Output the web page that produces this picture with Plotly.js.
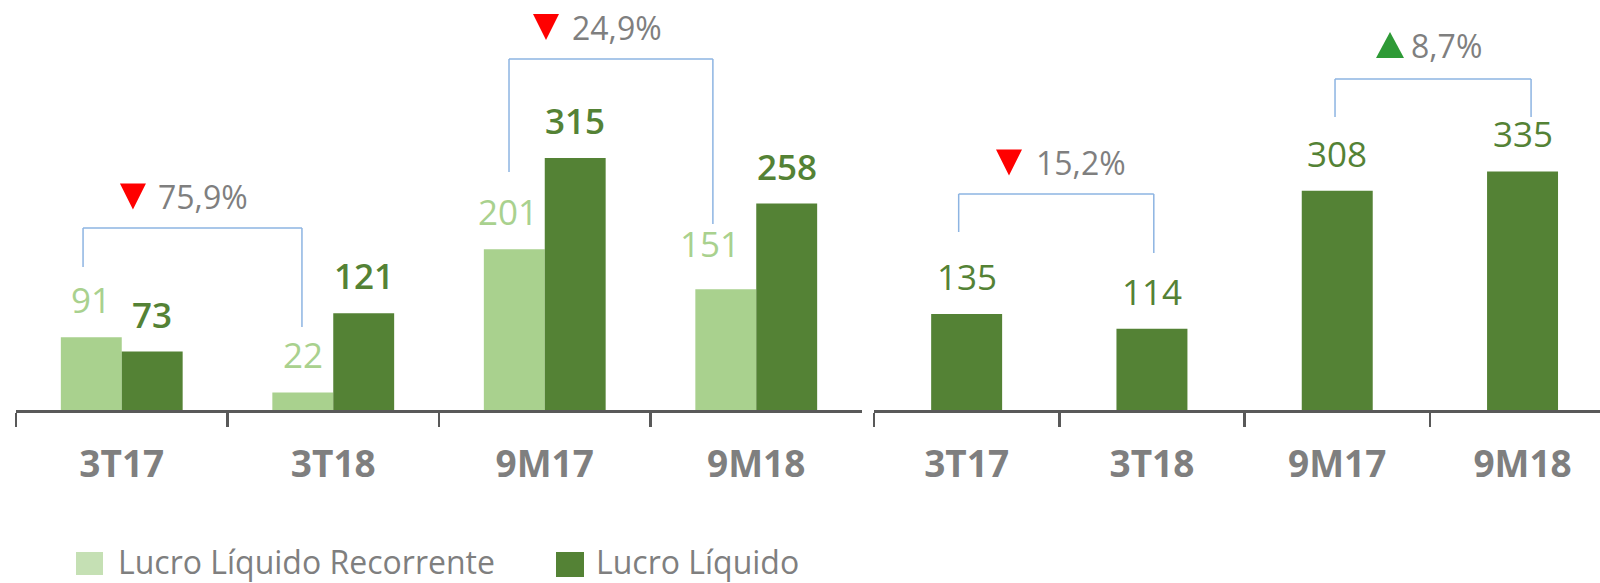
<!DOCTYPE html>
<html>
<head>
<meta charset="utf-8">
<script src="https://cdn.plot.ly/plotly-3.0.1.min.js"></script>
<style>
  html, body { margin: 0; padding: 0; background: #fff; }
  #chart { width: 1600px; height: 583px; }
</style>
</head>
<body>
<div id="chart"></div>
<script>
// Lucro líquido (esquerda: recorrente x contábil) e painel da direita,
// com colchetes de variação entre períodos.

const CATEGORIES = ['3T17', '3T18', '9M17', '9M18'];
const LUCRO_RECORRENTE = [91, 22, 201, 151];
const LUCRO_LIQUIDO = [73, 121, 315, 258];
const RIGHT_VALUES = [135, 114, 308, 335];
const SERIES_NAMES = ['Lucro Líquido Recorrente', 'Lucro Líquido'];

const LEFT_CHANGES = ['75,9%', '24,9%'];
const LEFT_DIRS = ['down', 'down'];
const RIGHT_CHANGES = ['15,2%', '8,7%'];
const RIGHT_DIRS = ['down', 'up'];

const FONT = 'Open Sans, sans-serif';
const LIGHT = '#A9D18E';
const DARK = '#548235';
const SWATCH_LIGHT = '#C5E0B4';
const GRAY = '#7F7F7F';
const AXIS = '#595959';
const BRACKET = '#8DB4E2';
// triangles in pixels around their anchor (y up)
const ARROW = {
  down: { path: 'M-13,13 L13,13 L0,-13 Z', color: '#FF0000' },
  up: { path: 'M-14,-13 L14,-13 L0,13 Z', color: '#2E9A36' },
};

const W = 1600;
const PLOT_H = 410;

// bracket geometry: [x-left, x-right, top, left-leg bottom, right-leg bottom] in axis units
const LEFT_BRACKETS = [[-0.183, 0.852, 227.5, 178.75, 103.75], [1.831, 2.795, 438.75, 297.5, 232.5]];
const RIGHT_BRACKETS = [[-0.043, 1.01, 303.4, 250, 220.5], [1.988, 3.046, 464.9, 411.5, 411.5]];
// change marks: [arrow centre x, arrow centre y, text left x, text middle y] in axis units
const LEFT_CHANGE_POS = [[0.053, 266.9, 0.162, 267.5], [2.006, 478.75, 2.119, 478.75]];
const RIGHT_CHANGE_POS = [[0.2286, 347.6, 0.3635, 348.3], [2.2847, 512.6, 2.387, 511.9]];

const traces = [
  {
    type: 'bar', x: CATEGORIES, y: LUCRO_RECORRENTE, xaxis: 'x', yaxis: 'y',
    name: SERIES_NAMES[0], marker: { color: LIGHT }, width: 0.288, offset: -0.288,
    hoverinfo: 'x+y+name',
  },
  {
    type: 'bar', x: CATEGORIES, y: LUCRO_LIQUIDO, xaxis: 'x', yaxis: 'y',
    name: SERIES_NAMES[1], marker: { color: DARK }, width: 0.288, offset: 0,
    hoverinfo: 'x+y+name',
  },
  {
    type: 'bar', x: CATEGORIES, y: RIGHT_VALUES, xaxis: 'x2', yaxis: 'y2',
    name: SERIES_NAMES[1], marker: { color: DARK }, width: 0.383,
    hoverinfo: 'x+y',
  },
];

function valueLabels(values, xref, yref, color, weight, xshift, nudges = {}) {
  return values.map((v, i) => {
    const n = nudges[i] || [0, 0];
    return {
      x: CATEGORIES[i], y: v, xref, yref, text: String(v), showarrow: false,
      xanchor: 'center', yanchor: 'bottom', xshift: xshift + n[0], yshift: 12 + n[1],
      font: { family: FONT, size: 35, color, weight },
    };
  });
}

function changeTexts(texts, pos, xref, yref) {
  return texts.map((t, i) => ({
    x: pos[i][2], y: pos[i][3], xref, yref, showarrow: false, xanchor: 'left', yanchor: 'middle',
    text: t, font: { family: FONT, size: 32, color: GRAY },
  }));
}

function changeArrows(dirs, pos, xref, yref) {
  return dirs.map((d, i) => ({
    type: 'path', xref, yref, xsizemode: 'pixel', ysizemode: 'pixel',
    xanchor: pos[i][0], yanchor: pos[i][1], path: ARROW[d].path,
    fillcolor: ARROW[d].color, line: { width: 0 },
  }));
}

function brackets(list, xref, yref) {
  const line = { color: BRACKET, width: 1.5 };
  const out = [];
  list.forEach(([x0, x1, top, b0, b1]) => {
    out.push({ type: 'line', xref, yref, x0, x1, y0: top, y1: top, line });
    out.push({ type: 'line', xref, yref, x0, x1: x0, y0: top, y1: b0, line });
    out.push({ type: 'line', xref, yref, x0: x1, x1, y0: top, y1: b1, line });
  });
  return out;
}

// hand-made legend (Excel-like big swatches)
const legendY = (px) => (PLOT_H - px) / PLOT_H;
const legendShapes = [
  { type: 'rect', xref: 'paper', yref: 'paper', x0: 76 / W, x1: 103 / W, y0: legendY(575), y1: legendY(552),
    fillcolor: SWATCH_LIGHT, line: { width: 0 } },
  { type: 'rect', xref: 'paper', yref: 'paper', x0: 556 / W, x1: 584 / W, y0: legendY(577), y1: legendY(552),
    fillcolor: DARK, line: { width: 0 } },
];
const legendText = [
  { x: 116 / W, text: SERIES_NAMES[0] },
  { x: 594 / W, text: SERIES_NAMES[1] },
].map((d) => ({
  ...d, y: legendY(561), xref: 'paper', yref: 'paper', showarrow: false,
  xanchor: 'left', yanchor: 'middle', font: { family: FONT, size: 32, color: GRAY },
}));

const xCommon = {
  type: 'category', showline: true, linecolor: AXIS, linewidth: 3,
  ticks: 'outside', tickson: 'boundaries', ticklen: 14, tickwidth: 2.5, tickcolor: AXIS,
  showgrid: false, zeroline: false, ticklabelstandoff: 20,
  tickfont: { family: FONT, size: 37, color: GRAY, weight: 700 },
};

const layout = {
  width: W, height: 583,
  margin: { l: 0, r: 0, t: 0, b: 583 - PLOT_H },
  paper_bgcolor: '#fff', plot_bgcolor: '#fff',
  barmode: 'overlay', showlegend: false,
  xaxis: { ...xCommon, domain: [16 / W, 862 / W], range: [-0.5, 3.5], anchor: 'y' },
  xaxis2: { ...xCommon, domain: [874 / W, 1], range: [-0.5, 3.418], anchor: 'y2' },
  yaxis: { range: [0, PLOT_H / 0.8], visible: false, fixedrange: true },
  yaxis2: { range: [0, PLOT_H / 0.712], visible: false, anchor: 'x2', fixedrange: true },
  shapes: [
    ...brackets(LEFT_BRACKETS, 'x', 'y'),
    ...brackets(RIGHT_BRACKETS, 'x2', 'y2'),
    ...changeArrows(LEFT_DIRS, LEFT_CHANGE_POS, 'x', 'y'),
    ...changeArrows(RIGHT_DIRS, RIGHT_CHANGE_POS, 'x2', 'y2'),
    ...legendShapes,
  ],
  annotations: [
    ...valueLabels(LUCRO_RECORRENTE, 'x', 'y', LIGHT, 400, -30.5, { 2: [-6, 0], 3: [-16, 8] }),
    ...valueLabels(LUCRO_LIQUIDO, 'x', 'y', DARK, 600, 30.5),
    ...valueLabels(RIGHT_VALUES, 'x2', 'y2', DARK, 400, 0),
    ...changeTexts(LEFT_CHANGES, LEFT_CHANGE_POS, 'x', 'y'),
    ...changeTexts(RIGHT_CHANGES, RIGHT_CHANGE_POS, 'x2', 'y2'),
    ...legendText,
  ],
};

Plotly.newPlot('chart', traces, layout, { displayModeBar: false, staticPlot: true });
</script>
</body>
</html>
